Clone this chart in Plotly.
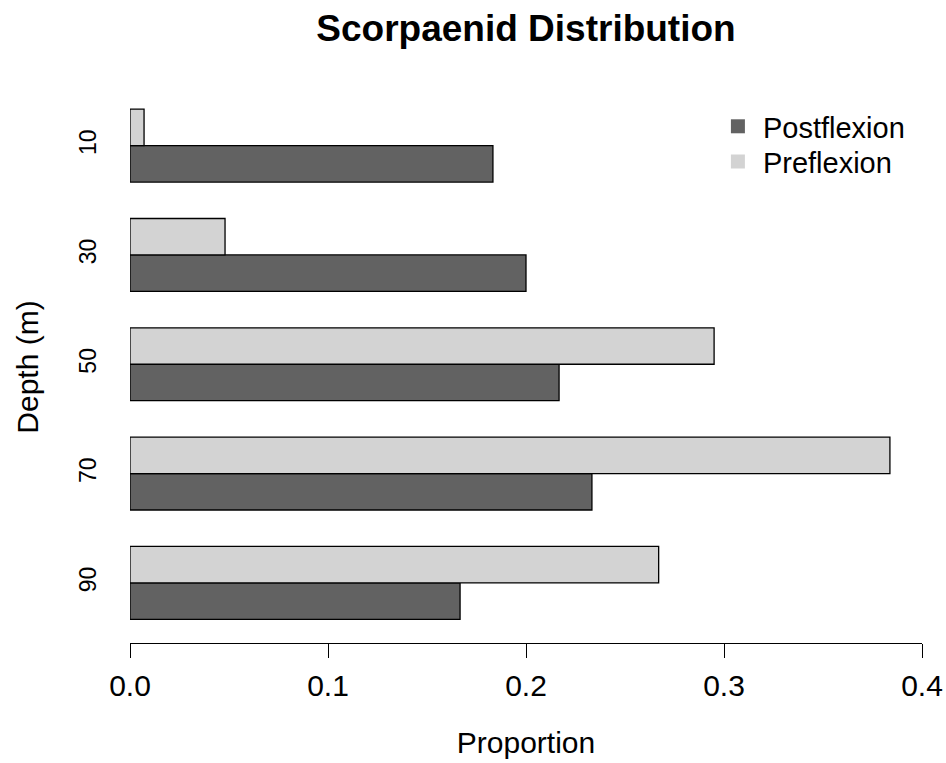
import plotly.graph_objects as go

# data
depths = ["10", "30", "50", "70", "90"]
postflexion = [0.1833, 0.2000, 0.2167, 0.2333, 0.1667]
preflexion = [0.0071, 0.0480, 0.2950, 0.3838, 0.2670]
x_ticks = [0.0, 0.1, 0.2, 0.3, 0.4]

dark = "#626262"
light = "#d3d3d3"
font = "Arial, Liberation Sans, sans-serif"

fig = go.Figure()
fig.add_trace(go.Bar(y=depths, x=postflexion, orientation="h", name="Postflexion",
                     marker=dict(color=dark, line=dict(color="black", width=1.3)),
                     showlegend=False))
fig.add_trace(go.Bar(y=depths, x=preflexion, orientation="h", name="Preflexion",
                     marker=dict(color=light, line=dict(color="black", width=1.3)),
                     showlegend=False))
# legend-only entries (plain squares, no outline), one legend each for spacing
fig.add_trace(go.Scatter(x=[None], y=[None], mode="markers", name="Postflexion",
                         marker=dict(symbol="square", size=14, color=dark),
                         legend="legend"))
fig.add_trace(go.Scatter(x=[None], y=[None], mode="markers", name="Preflexion",
                         marker=dict(symbol="square", size=14, color=light),
                         legend="legend2"))

leg = dict(x=0.736, xanchor="left", yanchor="top", font=dict(size=29),
           bgcolor="rgba(0,0,0,0)", itemwidth=40)

fig.update_layout(
    width=946, height=763,
    margin=dict(l=130, r=24, t=91, b=120),
    plot_bgcolor="white", paper_bgcolor="white",
    font=dict(family=font, size=26, color="black"),
    barmode="group", bargap=1/3, bargroupgap=0,
    title=dict(text="<b>Scorpaenid Distribution</b>", x=0.5, xref="paper",
               y=1 - 28/763, yref="container", yanchor="middle",
               font=dict(size=37)),
    legend=dict(leg, y=0.982),
    legend2=dict(leg, y=0.918),
)
fig.update_xaxes(range=[0, 0.4], tickvals=x_ticks, tickformat=".1f",
                 showline=True, linecolor="black", linewidth=1.3,
                 ticks="outside", ticklen=14, tickwidth=1.3, tickcolor="black",
                 tickfont=dict(size=30), ticklabelstandoff=2,
                 showgrid=False, zeroline=False, automargin=False,
                 title_text="Proportion", title_standoff=30,
                 title_font=dict(size=30))
fig.update_yaxes(categoryorder="array", categoryarray=depths[::-1],
                 range=[-0.55, 4.5], tickangle=-90, ticks="",
                 tickfont=dict(size=23), ticklabelstandoff=28,
                 showline=False, showgrid=False, zeroline=False, automargin=False,
                 title_text="Depth (m)", title_standoff=27,
                 title_font=dict(size=30))

fig.write_html("out.html", config={"displayModeBar": False},
               post_script="document.body.style.margin='0';")
